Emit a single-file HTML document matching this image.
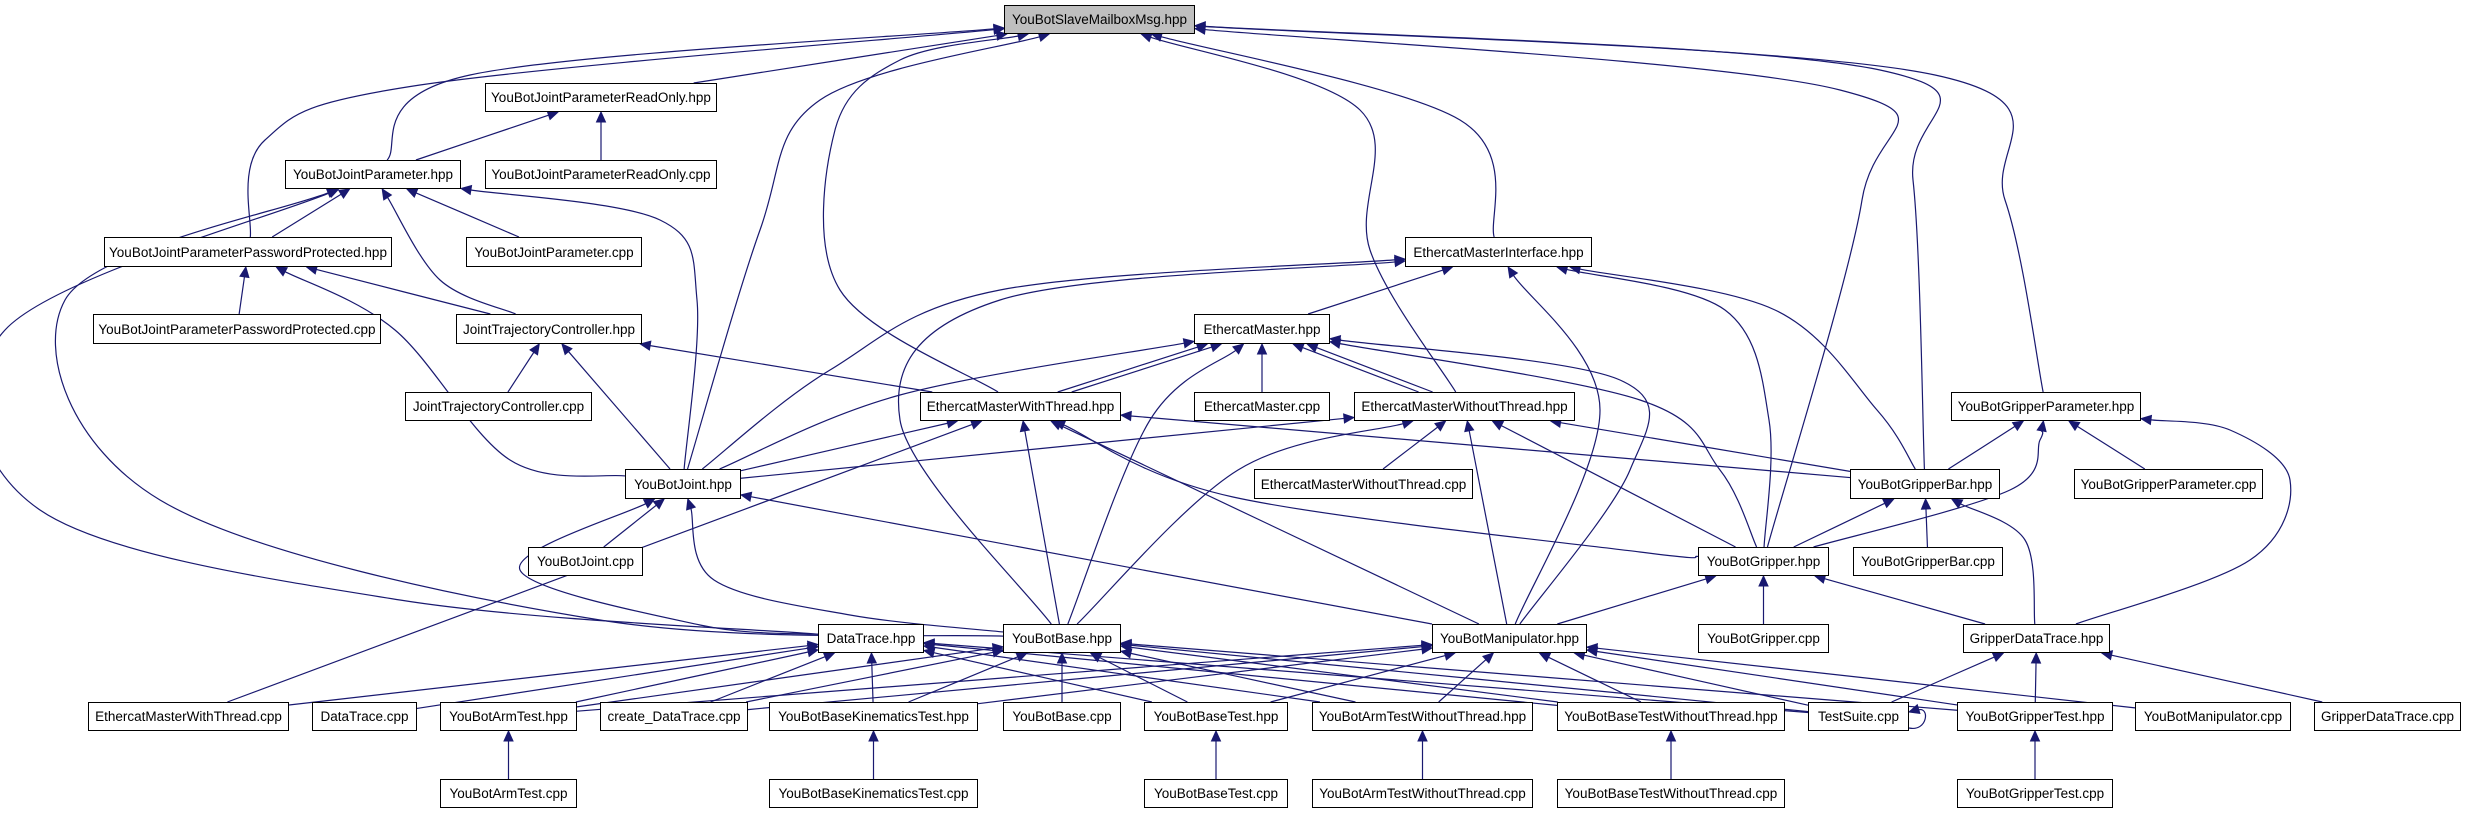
<!DOCTYPE html>
<html><head><meta charset="utf-8"><style>
html,body{margin:0;padding:0;background:#fff;}
#c{position:relative;width:2467px;height:813px;overflow:hidden;background:#fff;}
.n{position:absolute;box-sizing:border-box;border:1.3px solid #000;background:#fff;font-family:"Liberation Sans",sans-serif;font-size:13.5px;color:#000;display:flex;align-items:center;justify-content:center;white-space:nowrap;z-index:2;}
svg{position:absolute;left:0;top:0;z-index:1;}
</style></head><body><div id="c">
<svg id="s" width="2467" height="813" xmlns="http://www.w3.org/2000/svg"></svg>
<div class="n" id="SM" style="left:1004px;top:5px;width:191px;height:29px;background:#bfbfbf">YouBotSlaveMailboxMsg.hpp</div>
<div class="n" id="JPRO" style="left:485px;top:83px;width:232px;height:29px">YouBotJointParameterReadOnly.hpp</div>
<div class="n" id="JP" style="left:285px;top:160px;width:176px;height:29px">YouBotJointParameter.hpp</div>
<div class="n" id="JPROc" style="left:485px;top:160px;width:232px;height:29px">YouBotJointParameterReadOnly.cpp</div>
<div class="n" id="JPPP" style="left:104px;top:237px;width:288px;height:30px">YouBotJointParameterPasswordProtected.hpp</div>
<div class="n" id="JPc" style="left:466px;top:237px;width:176px;height:30px">YouBotJointParameter.cpp</div>
<div class="n" id="EMI" style="left:1405px;top:237px;width:187px;height:30px">EthercatMasterInterface.hpp</div>
<div class="n" id="JPPPc" style="left:93px;top:314px;width:288px;height:30px">YouBotJointParameterPasswordProtected.cpp</div>
<div class="n" id="JTC" style="left:456px;top:314px;width:186px;height:30px">JointTrajectoryController.hpp</div>
<div class="n" id="EM" style="left:1194px;top:314px;width:136px;height:30px">EthercatMaster.hpp</div>
<div class="n" id="JTCc" style="left:405px;top:392px;width:187px;height:29px">JointTrajectoryController.cpp</div>
<div class="n" id="EMWT" style="left:920px;top:392px;width:201px;height:29px">EthercatMasterWithThread.hpp</div>
<div class="n" id="EMc" style="left:1194px;top:392px;width:136px;height:29px">EthercatMaster.cpp</div>
<div class="n" id="EMWoT" style="left:1354px;top:392px;width:221px;height:29px">EthercatMasterWithoutThread.hpp</div>
<div class="n" id="YGP" style="left:1951px;top:392px;width:190px;height:29px">YouBotGripperParameter.hpp</div>
<div class="n" id="YJ" style="left:625px;top:469px;width:116px;height:30px">YouBotJoint.hpp</div>
<div class="n" id="EMWoTc" style="left:1254px;top:469px;width:219px;height:30px">EthercatMasterWithoutThread.cpp</div>
<div class="n" id="YGB" style="left:1850px;top:469px;width:150px;height:30px">YouBotGripperBar.hpp</div>
<div class="n" id="YGPc" style="left:2074px;top:469px;width:189px;height:30px">YouBotGripperParameter.cpp</div>
<div class="n" id="YJc" style="left:528px;top:547px;width:115px;height:29px">YouBotJoint.cpp</div>
<div class="n" id="YG" style="left:1698px;top:547px;width:131px;height:29px">YouBotGripper.hpp</div>
<div class="n" id="YGBc" style="left:1853px;top:547px;width:150px;height:29px">YouBotGripperBar.cpp</div>
<div class="n" id="DT" style="left:818px;top:624px;width:106px;height:29px">DataTrace.hpp</div>
<div class="n" id="YB" style="left:1003px;top:624px;width:118px;height:29px">YouBotBase.hpp</div>
<div class="n" id="YM" style="left:1432px;top:624px;width:155px;height:29px">YouBotManipulator.hpp</div>
<div class="n" id="YGc" style="left:1698px;top:624px;width:131px;height:29px">YouBotGripper.cpp</div>
<div class="n" id="GDT" style="left:1963px;top:624px;width:147px;height:29px">GripperDataTrace.hpp</div>
<div class="n" id="EMWTc" style="left:88px;top:702px;width:201px;height:29px">EthercatMasterWithThread.cpp</div>
<div class="n" id="DTc" style="left:312px;top:702px;width:105px;height:29px">DataTrace.cpp</div>
<div class="n" id="YAT" style="left:440px;top:702px;width:137px;height:29px">YouBotArmTest.hpp</div>
<div class="n" id="cDT" style="left:600px;top:702px;width:148px;height:29px">create_DataTrace.cpp</div>
<div class="n" id="YBKT" style="left:769px;top:702px;width:209px;height:29px">YouBotBaseKinematicsTest.hpp</div>
<div class="n" id="YBc" style="left:1003px;top:702px;width:118px;height:29px">YouBotBase.cpp</div>
<div class="n" id="YBT" style="left:1144px;top:702px;width:144px;height:29px">YouBotBaseTest.hpp</div>
<div class="n" id="YATW" style="left:1312px;top:702px;width:221px;height:29px">YouBotArmTestWithoutThread.hpp</div>
<div class="n" id="YBTW" style="left:1557px;top:702px;width:228px;height:29px">YouBotBaseTestWithoutThread.hpp</div>
<div class="n" id="TS" style="left:1808px;top:702px;width:101px;height:29px">TestSuite.cpp</div>
<div class="n" id="YGT" style="left:1957px;top:702px;width:156px;height:29px">YouBotGripperTest.hpp</div>
<div class="n" id="YMc" style="left:2135px;top:702px;width:156px;height:29px">YouBotManipulator.cpp</div>
<div class="n" id="GDTc" style="left:2314px;top:702px;width:147px;height:29px">GripperDataTrace.cpp</div>
<div class="n" id="YATc" style="left:440px;top:779px;width:137px;height:29px">YouBotArmTest.cpp</div>
<div class="n" id="YBKTc" style="left:769px;top:779px;width:209px;height:29px">YouBotBaseKinematicsTest.cpp</div>
<div class="n" id="YBTc" style="left:1144px;top:779px;width:144px;height:29px">YouBotBaseTest.cpp</div>
<div class="n" id="YATWc" style="left:1312px;top:779px;width:221px;height:29px">YouBotArmTestWithoutThread.cpp</div>
<div class="n" id="YBTWc" style="left:1557px;top:779px;width:228px;height:29px">YouBotBaseTestWithoutThread.cpp</div>
<div class="n" id="YGTc" style="left:1957px;top:779px;width:156px;height:29px">YouBotGripperTest.cpp</div>
</div>
<script>
(function(){
var S=document.getElementById('s'),NS='http://www.w3.org/2000/svg',COL='#191970';
function box(id){var e=document.getElementById(id);return{x:e.offsetLeft,y:e.offsetTop,w:e.offsetWidth,h:e.offsetHeight};}
function clip(b,p,off){var cx=b.x+b.w/2+(off||0),cy=b.y+b.h/2,dx=p[0]-cx,dy=p[1]-cy;
 var t=Math.min(dx?Math.abs(b.w/2/dx):1e9,dy?Math.abs(b.h/2/dy):1e9);if(t>1)t=1;return[cx+dx*t,cy+dy*t];}
function dist(a,b){return Math.hypot(a[0]-b[0],a[1]-b[1]);}
var E=[
['JPRO','SM',[]],['JP','SM',[[470,75]]],['JPPP','SM',[[265,140],[420,85]]],
['EMWT','SM',[[840,290],[835,130],[900,60]]],['YJ','SM',[[760,230],[820,100]]],
['EMI','SM',[[1460,120]]],['EMWoT','SM',[[1370,250],[1360,110]]],
['YG','SM',[[1862,200],[1840,90]]],['YGB','SM',[[1913,180],[1880,70]]],['YGP','SM',[[2005,200],[1935,75]]],
['JP','JPRO',[]],['JPROc','JPRO',[]],
['JPPP','JP',[]],['JTC','JP',[[440,280]]],['JPc','JP',[]],['YJ','JP',[[697,300],[660,220]]],
['DT','JP',[[5,330],[40,510],[400,600]]],['YB','JP',[[65,300],[160,500],[600,620]]],
['JPPPc','JPPP',[]],['JTC','JPPP',[]],['YJ','JPPP',[[510,460],[395,330]]],
['JTCc','JTC',[]],['YJ','JTC',[]],['EMWT','JTC',[]],
['YJ','EMI',[[830,370],[1000,290]]],['YB','EMI',[[900,420],[1000,300]]],['EM','EMI',[]],
['YM','EMI',[[1600,410]]],['YG','EMI',[[1725,310],[1769,420]]],['YGB','EMI',[[1775,310],[1877,410]]],
['EMWT','EM',[],-8],['EMWT','EM',[],6],['EMc','EM',[]],['EMWoT','EM',[],-8],['EMWoT','EM',[],6],
['YJ','EM',[[900,395]]],['YB','EM',[[1150,420]]],['YM','EM',[[1620,380],[1630,470]]],['YG','EM',[[1640,400],[1720,470]]],
['YJ','EMWT',[]],['EMWTc','EMWT',[]],['YB','EMWT',[]],['YM','EMWT',[]],['YG','EMWT',[[1233,497],[1640,552]]],['YGB','EMWT',[]],
['YJ','EMWoT',[]],['YB','EMWoT',[[1238,470]]],['EMWoTc','EMWoT',[]],['YM','EMWoT',[]],['YG','EMWoT',[]],['YGB','EMWoT',[]],
['YJc','YJ',[]],['DT','YJ',[[520,570],[700,625]]],['YB','YJ',[[714,580],[850,615]]],['YM','YJ',[]],
['YGB','YGP',[]],['YGPc','YGP',[]],['YG','YGP',[[2010,490],[2040,440]]],['GDT','YGP',[[2250,560],[2290,480],[2230,430]]],
['YG','YGB',[]],['YGBc','YGB',[]],['GDT','YGB',[[2025,540]]],
['YGc','YG',[]],['GDT','YG',[]],['YM','YG',[]],
['TS','GDT',[]],['YGT','GDT',[]],['GDTc','GDT',[]],
['YGTc','YGT',[]],['YATc','YAT',[]],['YBKTc','YBKT',[]],['YBTc','YBT',[]],['YATWc','YATW',[]],['YBTWc','YBTW',[]]
];
['EMWTc','DTc','YAT','cDT','YBKT','YBT','YATW','YBTW','TS'].forEach(function(c){E.push([c,'DT',[]]);});
['YAT','cDT','YBKT','YBc','YBT','YATW','YBTW','TS','YGT'].forEach(function(c){E.push([c,'YB',[]]);});
['YAT','cDT','YBKT','YBT','YATW','YBTW','TS','YGT','YMc'].forEach(function(c){E.push([c,'YM',[]]);});
function arrow(tip,from){var dx=tip[0]-from[0],dy=tip[1]-from[1],L=Math.hypot(dx,dy)||1;dx/=L;dy/=L;
 var bx=tip[0]-dx*10,by=tip[1]-dy*10;var p=document.createElementNS(NS,'polygon');
 p.setAttribute('points',tip[0]+','+tip[1]+' '+(bx-dy*4.5)+','+(by+dx*4.5)+' '+(bx+dy*4.5)+','+(by-dx*4.5));
 p.setAttribute('fill',COL);p.setAttribute('stroke',COL);S.appendChild(p);return[bx,by];}
E.forEach(function(e){var cb=box(e[0]),pb=box(e[1]),v=e[2].slice(),o=e[3]||0;
 var pc=[pb.x+pb.w/2+o,pb.y+pb.h/2],cc=[cb.x+cb.w/2+o,cb.y+cb.h/2];
 if(v.length>1&&dist(v[v.length-1],cc)<dist(v[0],cc))v.reverse();
 var a=clip(cb,v.length?v[0]:pc,o),b=clip(pb,v.length?v[v.length-1]:cc,o);
 var pts=[a].concat(v).concat([b]);
 var prev=pts[pts.length-2];var end=arrow(b,prev);pts[pts.length-1]=end;
 var d='M'+pts[0][0]+','+pts[0][1];
 for(var i=0;i<pts.length-1;i++){var p0=pts[i-1]||pts[i],p1=pts[i],p2=pts[i+1],p3=pts[i+2]||p2;
  d+=' C'+(p1[0]+(p2[0]-p0[0])/6)+','+(p1[1]+(p2[1]-p0[1])/6)+' '+(p2[0]-(p3[0]-p1[0])/6)+','+(p2[1]-(p3[1]-p1[1])/6)+' '+p2[0]+','+p2[1];}
 var pa=document.createElementNS(NS,'path');pa.setAttribute('d',d);pa.setAttribute('fill','none');pa.setAttribute('stroke',COL);pa.setAttribute('stroke-width','1.2');S.appendChild(pa);});
var lp=document.createElementNS(NS,'path');lp.setAttribute('d','M1909,728 C1928,732 1930,706 1918,710');lp.setAttribute('fill','none');lp.setAttribute('stroke',COL);lp.setAttribute('stroke-width','1.2');S.appendChild(lp);
arrow([1909,712],[1919,709]);
})();
</script>
</body></html>
